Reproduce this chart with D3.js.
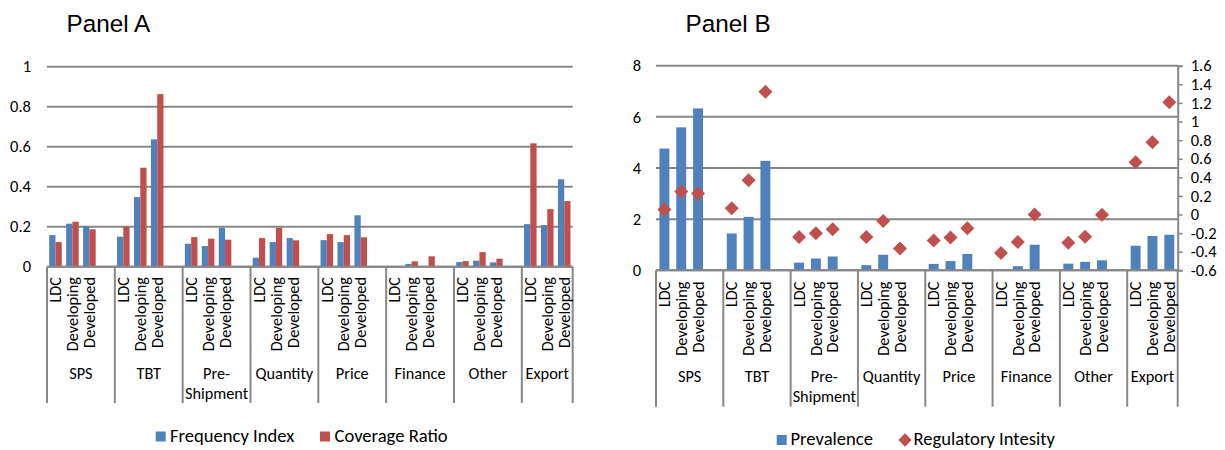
<!DOCTYPE html>
<html><head><meta charset="utf-8">
<script src="https://cdn.jsdelivr.net/npm/d3@7"></script>
<style>
body{margin:0;background:#fff;}
text{font-family:Carlito,Lato,"Liberation Sans",sans-serif;fill:#000;}
</style></head>
<body><svg id="c" width="1225" height="450"></svg>
<script>
const categories = ["SPS","TBT","Pre-Shipment","Quantity","Price","Finance","Other","Export"];
const groups = ["LDC","Developing","Developed"];
// Panel A (per category: LDC, Developing, Developed)
const frequencyIndex = [0.158,0.215,0.203, 0.150,0.348,0.637, 0.115,0.103,0.195, 0.045,0.123,0.143,
  0.133,0.123,0.257, null,0.014,0.003, 0.023,0.030,0.022, 0.213,0.208,0.437];
const coverageRatio = [0.123,0.225,0.187, 0.200,0.495,0.863, 0.148,0.140,0.135, 0.143,0.195,0.132,
  0.163,0.158,0.147, null,0.027,0.052, 0.028,0.073,0.040, 0.617,0.288,0.328];
// Panel B
const prevalence = [4.76,5.59,6.33, 1.44,2.09,4.28, 0.30,0.46,0.54, 0.20,0.61,null,
  0.25,0.36,0.64, null,0.16,1.00, 0.26,0.33,0.39, 0.96,1.34,1.39];
const regulatoryIntensity = [0.053,0.247,0.225, 0.067,0.369,1.32, -0.241,-0.202,-0.159, -0.241,-0.069,-0.366,
  -0.28,-0.248,-0.148, -0.414,-0.296,0.0, -0.303,-0.239,-0.003, 0.563,0.777,1.206];
const ticksA = [0,0.2,0.4,0.6,0.8,1];
const ticksBLeft = [0,2,4,6,8];
const ticksBRight = [-0.6,-0.4,-0.2,0,0.2,0.4,0.6,0.8,1,1.2,1.4,1.6];
const tickLabelsBRight = ["-0.6","-0.4","-0.2","0","0.2","0.4","0.6","0.8","1","1.2","1.4","1.6"];

const BLUE="#4F81BD", RED="#C0504D", GRID="#878787";
const FS_TICK="16.5px", FS_SUB="16.3px", FS_CAT="16.3px", FS_LEG="18.6px";
const svg = d3.select("#c");

// slots: 4 per category (blank separator), no trailing blank
const slots = [];
categories.forEach((c,ci)=>{ for(let s=0;s<4;s++) slots.push(ci+"-"+s); });
slots.pop();
const key = i => Math.floor(i/3)+"-"+(i%3);

function catAxis(g, x, y0, yBot, subTop, catY){
  const bounds = categories.map((c,ci)=>x(ci+"-0")).concat([x.range()[1]]);
  g.selectAll("line.div").data(bounds).join("line")
    .attr("x1",d=>d).attr("x2",d=>d).attr("y1",y0).attr("y2",yBot)
    .attr("stroke",GRID).attr("stroke-width",2);
  const subs=[]; categories.forEach((c,ci)=>groups.forEach((gname,si)=>subs.push({k:ci+"-"+si,t:gname})));
  g.selectAll("text.sub").data(subs).join("text")
    .attr("transform",d=>`translate(${x(d.k)+x.bandwidth()/2},${subTop}) rotate(-90)`)
    .attr("text-anchor","end").attr("dy","0.35em").style("font-size",FS_SUB).text(d=>d.t);
  categories.forEach((c,ci)=>{
    const cx = (bounds[ci]+bounds[ci+1])/2;
    const lines = c.includes("-") ? [c.slice(0,c.indexOf("-")+1), c.slice(c.indexOf("-")+1)] : [c];
    const t = g.append("text").attr("text-anchor","middle").style("font-size",FS_CAT);
    lines.forEach((ln,li)=>t.append("tspan").attr("x",cx).attr("y",catY+li*19.5).attr("dy","0.35em").text(ln));
  });
}

// ---------- Panel A ----------
{
  const x = d3.scaleBand().domain(slots).range([47,572.7]).padding(0);
  const y = d3.scaleLinear().domain([0,1]).range([266.7,66.7]);
  const g = svg.append("g");
  g.append("text").attr("x",66.5).attr("y",31.7).style("font-family","'Liberation Sans',Arial,sans-serif").style("font-size","24.3px").text("Panel A");
  g.selectAll("line.grid").data(ticksA).join("line")
    .attr("x1",47).attr("x2",572.7).attr("y1",d=>y(d)).attr("y2",d=>y(d)).attr("stroke",GRID).attr("stroke-width",2);
  const ax = g.append("g").attr("transform","translate(47,0)")
    .call(d3.axisLeft(y).tickValues(ticksA).tickSize(0).tickPadding(16).tickFormat(d=>String(d)));
  ax.select(".domain").remove();
  ax.selectAll("text").style("font-size",FS_TICK).style("font-family",null);
  const bw = x.bandwidth()*0.37;
  const data = frequencyIndex.map((v,i)=>({i,v})).filter(d=>d.v!=null);
  g.selectAll("rect.fi").data(data).join("rect")
    .attr("x",d=>x(key(d.i))+x.bandwidth()/2-bw).attr("width",bw)
    .attr("y",d=>y(d.v)).attr("height",d=>y(0)-y(d.v)).attr("fill",BLUE);
  const data2 = coverageRatio.map((v,i)=>({i,v})).filter(d=>d.v!=null);
  g.selectAll("rect.cr").data(data2).join("rect")
    .attr("x",d=>x(key(d.i))+x.bandwidth()/2).attr("width",bw)
    .attr("y",d=>y(d.v)).attr("height",d=>y(0)-y(d.v)).attr("fill",RED);
  g.append("line").attr("x1",47).attr("x2",572.7).attr("y1",y(0)).attr("y2",y(0)).attr("stroke",GRID).attr("stroke-width",2);
  catAxis(g, x, y(0), 403, 277, 373.5);
  g.append("rect").attr("x",155.7).attr("y",431.5).attr("width",10).attr("height",10).attr("fill",BLUE);
  g.append("text").attr("x",170).attr("y",441.7).style("font-size",FS_LEG).text("Frequency Index");
  g.append("rect").attr("x",320).attr("y",431.5).attr("width",10).attr("height",10).attr("fill",RED);
  g.append("text").attr("x",334.5).attr("y",441.7).style("font-size",FS_LEG).text("Coverage Ratio");
}

// ---------- Panel B ----------
{
  const x = d3.scaleBand().domain(slots).range([656,1177.7]).padding(0);
  const y = d3.scaleLinear().domain([0,8]).range([270.3,65.7]);
  const y2 = d3.scaleLinear().domain([-0.6,1.6]).range([270.3,65.7]);
  const g = svg.append("g");
  g.append("text").attr("x",685.5).attr("y",31.7).style("font-family","'Liberation Sans',Arial,sans-serif").style("font-size","24.3px").text("Panel B");
  g.selectAll("line.grid").data(ticksBLeft).join("line")
    .attr("x1",656).attr("x2",1177.7).attr("y1",d=>y(d)).attr("y2",d=>y(d)).attr("stroke",GRID).attr("stroke-width",2);
  const axl = g.append("g").attr("transform","translate(656,0)")
    .call(d3.axisLeft(y).tickValues(ticksBLeft).tickSize(0).tickPadding(15).tickFormat(d=>String(d)));
  axl.select(".domain").remove();
  axl.selectAll("text").style("font-size",FS_TICK).style("font-family",null);
  const axr = g.append("g").attr("transform","translate(1177.7,0)")
    .call(d3.axisRight(y2).tickValues(ticksBRight).tickSize(5).tickPadding(8).tickFormat((d,i)=>tickLabelsBRight[i]));
  axr.select(".domain").attr("stroke",GRID).attr("stroke-width",2);
  axr.selectAll(".tick line").attr("stroke",GRID).attr("stroke-width",1.5);
  axr.selectAll("text").style("font-size",FS_TICK).style("font-family",null);
  const bw = x.bandwidth()*0.59;
  const data = prevalence.map((v,i)=>({i,v})).filter(d=>d.v!=null);
  g.selectAll("rect.pv").data(data).join("rect")
    .attr("x",d=>x(key(d.i))+x.bandwidth()/2-bw/2).attr("width",bw)
    .attr("y",d=>y(d.v)).attr("height",d=>y(0)-y(d.v)).attr("fill",BLUE);
  g.append("line").attr("x1",656).attr("x2",1177.7).attr("y1",y(0)).attr("y2",y(0)).attr("stroke",GRID).attr("stroke-width",2);
  const diamond = d3.symbol().type(d3.symbolSquare).size(98);
  g.selectAll("path.ri").data(regulatoryIntensity.map((v,i)=>({i,v}))).join("path")
    .attr("d",diamond)
    .attr("transform",d=>`translate(${x(key(d.i))+x.bandwidth()/2},${y2(d.v)}) rotate(45)`)
    .attr("fill",RED);
  catAxis(g, x, y(0), 406.7, 281.5, 376.7);
  g.append("rect").attr("x",776.7).attr("y",435).attr("width",10).attr("height",10).attr("fill",BLUE);
  g.append("text").attr("x",790.5).attr("y",445).style("font-size",FS_LEG).text("Prevalence");
  g.append("path").attr("d",d3.symbol().type(d3.symbolSquare).size(88)).attr("transform","translate(905,440) rotate(45)").attr("fill",RED);
  g.append("text").attr("x",913.5).attr("y",445).style("font-size",FS_LEG).text("Regulatory Intesity");
}
</script></body></html>
